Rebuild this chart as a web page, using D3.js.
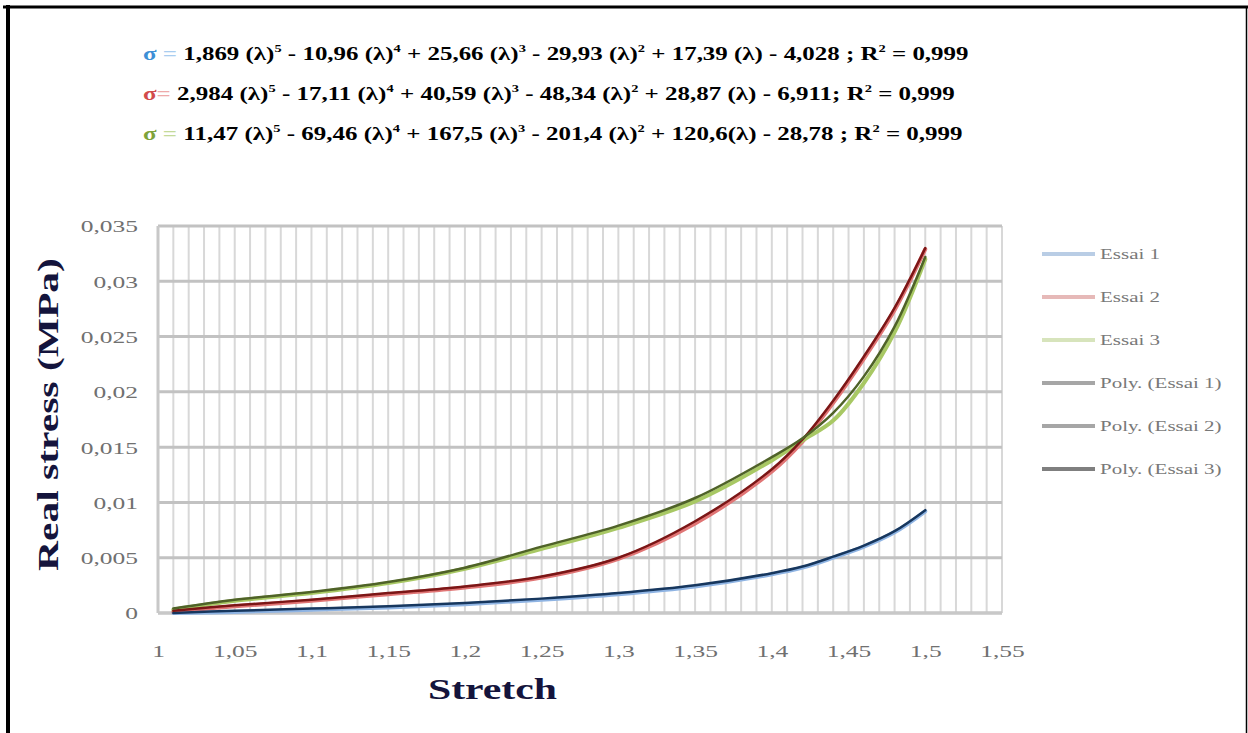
<!DOCTYPE html>
<html>
<head>
<meta charset="utf-8">
<script src="https://cdn.jsdelivr.net/npm/d3@7/dist/d3.min.js"></script>
<style>
  html, body { margin: 0; padding: 0; background: #fff; }
  svg { display: block; }
</style>
</head>
<body>
<svg id="chart" width="1248" height="733"></svg>
<script>
// ---------------- DATA ----------------
const stretch = [1.01, 1.05, 1.10, 1.15, 1.20, 1.25, 1.30, 1.35, 1.40, 1.42, 1.44, 1.46, 1.48, 1.50];

// measured points (light curves)
const essai1 = [0.0000, 0.0001, 0.0003, 0.0005, 0.0008, 0.0012, 0.0017, 0.0024, 0.0035, 0.0041, 0.0050, 0.0060, 0.0073, 0.0092];
const essai2 = [0.0001, 0.0006, 0.0011, 0.0017, 0.0023, 0.0032, 0.0049, 0.0081, 0.0128, 0.0155, 0.0190, 0.0230, 0.0274, 0.0329];
const essai3 = [0.0003, 0.0011, 0.0018, 0.0027, 0.0040, 0.0058, 0.0077, 0.0101, 0.0138, 0.0156, 0.0174, 0.0208, 0.0254, 0.0320];

// polynomial trend lines (dark curves)
const poly1 = [0.0000, 0.0002, 0.0004, 0.0006, 0.0009, 0.0013, 0.0018, 0.0025, 0.0036, 0.0042, 0.0051, 0.0061, 0.0074, 0.0093];
const poly2 = [0.0002, 0.0007, 0.0012, 0.0018, 0.0024, 0.0033, 0.0050, 0.0083, 0.0130, 0.0157, 0.0192, 0.0232, 0.0276, 0.0330];
const poly3 = [0.0004, 0.0012, 0.0019, 0.0028, 0.0041, 0.0060, 0.0079, 0.0104, 0.0141, 0.0158, 0.0181, 0.0214, 0.0259, 0.0322];

const seriesNames = ["Essai 1", "Essai 2", "Essai 3", "Poly. (Essai 1)", "Poly. (Essai 2)", "Poly. (Essai 3)"];

const xTicks = [1, 1.05, 1.1, 1.15, 1.2, 1.25, 1.3, 1.35, 1.4, 1.45, 1.5, 1.55];
const yTicks = [0, 0.005, 0.01, 0.015, 0.02, 0.025, 0.03, 0.035];
const xTickLabels = ["1", "1,05", "1,1", "1,15", "1,2", "1,25", "1,3", "1,35", "1,4", "1,45", "1,5", "1,55"];
const yTickLabels = ["0", "0,005", "0,01", "0,015", "0,02", "0,025", "0,03", "0,035"];

// equation coefficients
const eq1 = ["1,869", "10,96", "25,66", "29,93", "17,39", "4,028"];
const eq2 = ["2,984", "17,11", "40,59", "48,34", "28,87", "6,911"];
const eq3 = ["11,47", "69,46", "167,5", "201,4", "120,6", "28,78"];
const r2 = "0,999";

// ---------------- DRAWING ----------------
const svg = d3.select("#chart");
const x = d3.scaleLinear().domain([1, 1.55]).range([158, 1002]);
const y = d3.scaleLinear().domain([0, 0.035]).range([613, 226]);

// frame
svg.append("line").attr("x1", 3).attr("x2", 1248).attr("y1", 7).attr("y2", 7).attr("stroke", "#000").attr("stroke-width", 3);
svg.append("line").attr("x1", 8).attr("x2", 8).attr("y1", 5).attr("y2", 733).attr("stroke", "#000").attr("stroke-width", 4);
svg.append("line").attr("x1", 1246.5).attr("x2", 1246.5).attr("y1", 7).attr("y2", 733).attr("stroke", "#000").attr("stroke-width", 1.5);

// vertical minor gridlines every 0.01
const minor = d3.range(0, 56).map(i => 1 + i * 0.01);
svg.append("g").selectAll("line").data(minor).join("line")
  .attr("x1", d => x(d)).attr("x2", d => x(d))
  .attr("y1", y(0.035)).attr("y2", y(0))
  .attr("stroke", "#d8d8d8").attr("stroke-width", 2);

// horizontal gridlines
svg.append("g").selectAll("line").data(yTicks).join("line")
  .attr("x1", x(1)).attr("x2", x(1.55))
  .attr("y1", d => y(d)).attr("y2", d => y(d))
  .attr("stroke", "#c2c2c2").attr("stroke-width", 3);

// axes lines
svg.append("line").attr("x1", x(1)).attr("x2", x(1)).attr("y1", y(0.035)).attr("y2", y(0)).attr("stroke", "#c8c8c8").attr("stroke-width", 3);
svg.append("line").attr("x1", x(1)).attr("x2", x(1.55)).attr("y1", y(0)).attr("y2", y(0)).attr("stroke", "#c8c8c8").attr("stroke-width", 3);

// tick labels via axis generators
const SX = 1.5;
const yAxis = svg.append("g").attr("transform", "translate(158,0)")
  .call(d3.axisLeft(y).tickValues(yTicks).tickSize(0).tickFormat((d, i) => yTickLabels[i]));
yAxis.select(".domain").remove();
yAxis.selectAll("text")
  .attr("x", 0).attr("dy", "0.35em")
  .attr("font-family", "Liberation Serif").attr("font-size", 17).attr("fill", "#707070")
  .attr("transform", `translate(-20,0) scale(${SX},1)`);

const xAxis = svg.append("g").attr("transform", "translate(0,613)")
  .call(d3.axisBottom(x).tickValues(xTicks).tickSize(0).tickFormat((d, i) => xTickLabels[i]));
xAxis.select(".domain").remove();
xAxis.selectAll("text")
  .attr("y", 44).attr("dy", "0")
  .attr("font-family", "Liberation Serif").attr("font-size", 17).attr("fill", "#707070")
  .attr("transform", `scale(${SX},1)`);

// lines
const mk = vals => stretch.map((s, i) => [s, vals[i]]);
const line = d3.line().x(d => x(d[0])).y(d => y(d[1])).curve(d3.curveCatmullRom.alpha(0.5));

const raw = [
  {v: essai1, c: "#8fb4e3"},
  {v: essai2, c: "#e07575"},
  {v: essai3, c: "#a8c864"}
];
const trend = [
  {v: poly1, c: "#17375e"},
  {v: poly2, c: "#7b1616"},
  {v: poly3, c: "#4f6228"}
];
svg.append("g").selectAll("path").data(raw).join("path")
  .attr("d", d => line(mk(d.v))).attr("fill", "none")
  .attr("stroke", d => d.c).attr("stroke-width", 4).attr("stroke-linecap", "round");
svg.append("g").selectAll("path").data(trend).join("path")
  .attr("d", d => line(mk(d.v))).attr("fill", "none")
  .attr("stroke", d => d.c).attr("stroke-width", 2.5).attr("stroke-linecap", "round");

// legend
const legendColors = ["#b9cde5", "#e6b9b8", "#d7e4bc", "#a6a6a6", "#a6a6a6", "#7f7f7f"];
const lg = svg.append("g");
seriesNames.forEach((name, i) => {
  const yy = 254 + i * 43;
  lg.append("line").attr("x1", 1042).attr("x2", 1095).attr("y1", yy).attr("y2", yy)
    .attr("stroke", legendColors[i]).attr("stroke-width", 4);
  lg.append("text").attr("transform", `translate(1100,${yy + 5}) scale(${SX},1)`)
    .attr("font-family", "Liberation Serif").attr("font-size", 14).attr("fill", "#787878")
    .text(name);
});

// axis titles
function fitted(parent, text, tx, ty, size, target, opts) {
  const g = parent.append("g");
  const t = g.append("text").attr("font-family", "Liberation Serif").attr("font-weight", "bold")
    .attr("font-size", size).attr("fill", opts.fill || "#000").attr("text-anchor", "start").text(text);
  const w = t.node().getComputedTextLength();
  const s = target / w;
  if (opts.rotate) {
    g.attr("transform", `translate(${tx},${ty}) rotate(-90) scale(${s},1)`);
  } else {
    g.attr("transform", `translate(${tx},${ty}) scale(${s},1)`);
  }
  return g;
}
fitted(svg, "Real stress (MPa)", 58, 571, 30, 313, {rotate: true, fill: "#14143c"});
fitted(svg, "Stretch", 428, 699, 30, 129, {fill: "#14143c"});

// equations
const eqColors = [["#3d8fd6", "#a9cdf0"], ["#d24b4b", "#eeaaaa"], ["#7ea33a", "#c4da9a"]];
const eqs = [eq1, eq2, eq3];
const eqTargets = [826, 812, 820];
const eqY = [60, 100, 140];
const signs = [" - ", " + ", " - ", " + ", " - "];
const exps = ["5", "4", "3", "2", ""];
eqs.forEach((co, k) => {
  const g = svg.append("g");
  const t = g.append("text").attr("font-family", "Liberation Serif").attr("font-weight", "bold")
    .attr("font-size", 19).attr("fill", "#000");
  t.append("tspan").attr("fill", eqColors[k][0]).text("σ");
  t.append("tspan").attr("fill", eqColors[k][1]).text(k === 1 ? "= " : " = ");
  for (let i = 0; i < 5; i++) {
    const sp = (k === 2 && i === 4) ? "" : " ";
    t.append("tspan").text(co[i] + sp + "(λ)");
    if (exps[i]) t.append("tspan").attr("font-size", 11).attr("dy", -8).text(exps[i]);
    const after = t.append("tspan").text(signs[i]);
    if (exps[i]) after.attr("dy", 8);
  }
  t.append("tspan").text(co[5] + (k === 1 ? "; R" : " ; R"));
  t.append("tspan").attr("font-size", 11).attr("dy", -8).text("2");
  t.append("tspan").attr("dy", 8).text(" = " + r2);
  const w = t.node().getComputedTextLength();
  g.attr("transform", `translate(143,${eqY[k]}) scale(${eqTargets[k] / w},1)`);
});
</script>
</body>
</html>
